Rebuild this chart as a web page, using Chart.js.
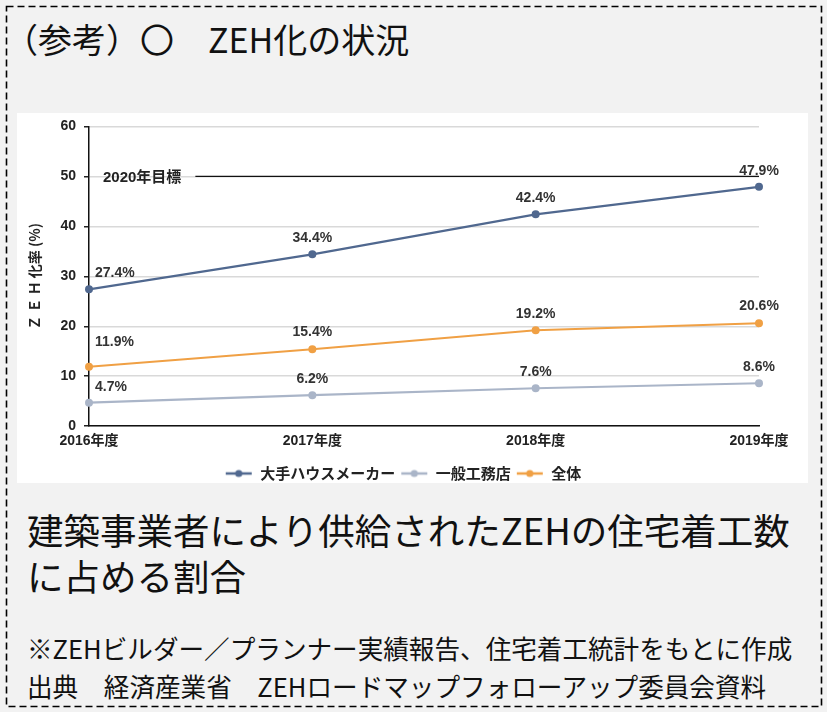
<!DOCTYPE html>
<html lang="ja">
<head>
<meta charset="utf-8">
<title>ZEH化の状況</title>
<script src="https://cdn.jsdelivr.net/npm/chart.js@4.4.1/dist/chart.umd.min.js"></script>
<style>
  html, body { margin: 0; padding: 0; }
  body {
    width: 827px; height: 712px; position: relative; overflow: hidden;
    background: #f2f2f2; color: #111;
    font-family: "Noto Sans CJK JP", "Noto Sans", sans-serif;
  }
  #frame { position: absolute; left: 0; top: 0; }
  #title {
    position: absolute; left: 4px; top: 22px;
    font-size: 34px; line-height: 34px; white-space: nowrap;
  }
  #panel {
    position: absolute; left: 17px; top: 113px; width: 791px; height: 370px;
    background: #ffffff;
  }
  #chart { position: absolute; left: 0; top: -3px; }
  #caption {
    position: absolute; left: 27px; top: 507px;
    font-size: 36.5px; line-height: 46px; white-space: nowrap;
  }
  #notes {
    position: absolute; left: 27px; top: 629px;
    font-size: 25.6px; line-height: 38px; white-space: nowrap;
  }
</style>
</head>
<body>
<svg id="frame" width="827" height="712">
  <rect x="6.5" y="6.5" width="815" height="700" fill="none" stroke="#000" stroke-width="1.6" stroke-dasharray="7 4"/>
</svg>
<div id="title">（参考）〇　ZEH化の状況</div>
<div id="panel"><canvas id="chart" width="791" height="377"></canvas></div>
<div id="caption">建築事業者により供給されたZEHの住宅着工数<br>に占める割合</div>
<div id="notes">※ZEHビルダー／プランナー実績報告、住宅着工統計をもとに作成<br>出典　経済産業省　ZEHロードマップフォローアップ委員会資料</div>

<script>
// Fiscal years on the x axis
const categories = ['2016年度', '2017年度', '2018年度', '2019年度'];

// ZEH share of new housing starts (%)
const majorBuilders = [27.4, 34.4, 42.4, 47.9];   // 大手ハウスメーカー
const localBuilders = [4.7, 6.2, 7.6, 8.6];       // 一般工務店
const overall = [11.9, 15.4, 19.2, 20.6];         // 全体

const seriesNames = ['大手ハウスメーカー', '一般工務店', '全体'];

// Y axis range and step
const yMin = 0;
const yMax = 60;
const yStep = 10;
const yAxisTitle = 'Ｚ Ｅ Ｈ 化率 (%)';

// 2020 target line
const targetValue = 50;
const targetLabel = '2020年目標';

const COLORS = ['#50688f', '#aab5c8', '#f0a044'];
const LATIN = '"Liberation Sans", Arial, "Noto Sans CJK JP", sans-serif';

Chart.defaults.font.family = LATIN;
Chart.defaults.color = '#222';

// Legend symbol: a short line with a dot in the middle
function legendMark(color) {
  const c = document.createElement('canvas');
  c.width = 28; c.height = 10;
  const g = c.getContext('2d');
  g.strokeStyle = color; g.lineWidth = 2.5;
  g.beginPath(); g.moveTo(1, 5); g.lineTo(27, 5); g.stroke();
  g.fillStyle = color;
  g.beginPath(); g.arc(14, 5, 3.6, 0, Math.PI * 2); g.fill();
  return c;
}
const marks = COLORS.map(legendMark);

// Move the legend block a little right and down from its default centred spot
const legendNudge = {
  id: 'legendNudge',
  afterLayout(chart) {
    const lg = chart.legend;
    if (!lg) return;
    const dx = 15, dy = 4;
    lg.left += dx; lg.right += dx;
    lg.top += dy; lg.bottom += dy;
  }
};

// Horizontal target line with its caption at the left
const targetLine = {
  id: 'targetLine',
  beforeDatasetsDraw(chart) {
    const { ctx, chartArea, scales } = chart;
    const y = scales.y.getPixelForValue(targetValue);
    ctx.save();
    ctx.font = 'bold 15px ' + LATIN;
    ctx.fillStyle = '#222';
    ctx.textAlign = 'left';
    ctx.textBaseline = 'middle';
    const tx = chartArea.left + 14;
    ctx.fillText(targetLabel, tx, y + 1);
    const w = ctx.measureText(targetLabel).width;
    ctx.strokeStyle = '#111';
    ctx.lineWidth = 1.3;
    ctx.beginPath();
    ctx.moveTo(tx + w + 14, y);
    ctx.lineTo(scales.x.getPixelForValue(categories.length - 1), y);
    ctx.stroke();
    ctx.restore();
  }
};

// Percent labels above each point
const valueLabels = {
  id: 'valueLabels',
  afterDatasetsDraw(chart) {
    const ctx = chart.ctx;
    ctx.save();
    ctx.font = 'bold 14px ' + LATIN;
    ctx.fillStyle = '#333';
    ctx.textBaseline = 'middle';
    chart.data.datasets.forEach((ds, di) => {
      chart.getDatasetMeta(di).data.forEach((pt, i) => {
        const lift = (ds.labelLift && ds.labelLift[i]) || 16;
        ctx.textAlign = i === 0 ? 'left' : 'center';
        const x = i === 0 ? pt.x + 6 : pt.x;
        ctx.fillText(ds.data[i].toFixed(1) + '%', x, pt.y - lift);
      });
    });
    ctx.restore();
  }
};

function series(label, data, color, extra) {
  return Object.assign({
    label, data,
    borderColor: color,
    backgroundColor: color,
    pointBackgroundColor: color,
    pointBorderColor: color,
    borderWidth: 2.2,
    pointRadius: 4,
    pointBorderWidth: 0,
    tension: 0,
    fill: false
  }, extra || {});
}

new Chart(document.getElementById('chart'), {
  type: 'line',
  data: {
    labels: categories,
    datasets: [
      series(seriesNames[0], majorBuilders, COLORS[0]),
      series(seriesNames[1], localBuilders, COLORS[1]),
      series(seriesNames[2], overall, COLORS[2], { labelLift: [25, 17, 16, 17] })
    ]
  },
  options: {
    responsive: false,
    animation: false,
    devicePixelRatio: 1,
    layout: { padding: { left: 0, right: 49, top: 9, bottom: 0 } },
    plugins: {
      tooltip: { enabled: false },
      legend: {
        position: 'bottom',
        labels: {
          usePointStyle: true,
          pointStyleWidth: 28,
          padding: 5,
          color: '#222',
          font: { size: 15, weight: 'bold', family: '"Noto Sans CJK JP", sans-serif' },
          generateLabels: (chart) => chart.data.datasets.map((ds, i) => ({
            text: ds.label,
            pointStyle: marks[i],
            fillStyle: COLORS[i],
            strokeStyle: COLORS[i],
            lineWidth: 0,
            fontColor: '#222',
            datasetIndex: i
          }))
        }
      }
    },
    scales: {
      x: {
        offset: false,
        grid: { display: false, drawTicks: false },
        border: { display: true, color: '#111', width: 1.5 },
        ticks: {
          padding: 7,
          maxRotation: 0,
          color: '#222',
          font: { size: 14, weight: 'bold' }
        }
      },
      y: {
        min: yMin,
        max: yMax,
        afterFit(scale) { scale.width = 72; },
        grid: { color: '#d9d9d9', lineWidth: 1.5, tickLength: 5, tickColor: '#222' },
        border: { display: true, color: '#111', width: 1.5 },
        ticks: {
          stepSize: yStep,
          padding: 8,
          color: '#222',
          font: { size: 14, weight: 'bold' }
        },
        title: {
          display: true,
          text: yAxisTitle,
          color: '#222',
          padding: { top: 9, bottom: 0 },
          font: { size: 14, weight: 'bold', family: '"Noto Sans CJK JP", sans-serif' }
        }
      }
    }
  },
  plugins: [legendNudge, targetLine, valueLabels]
});
</script>
</body>
</html>
